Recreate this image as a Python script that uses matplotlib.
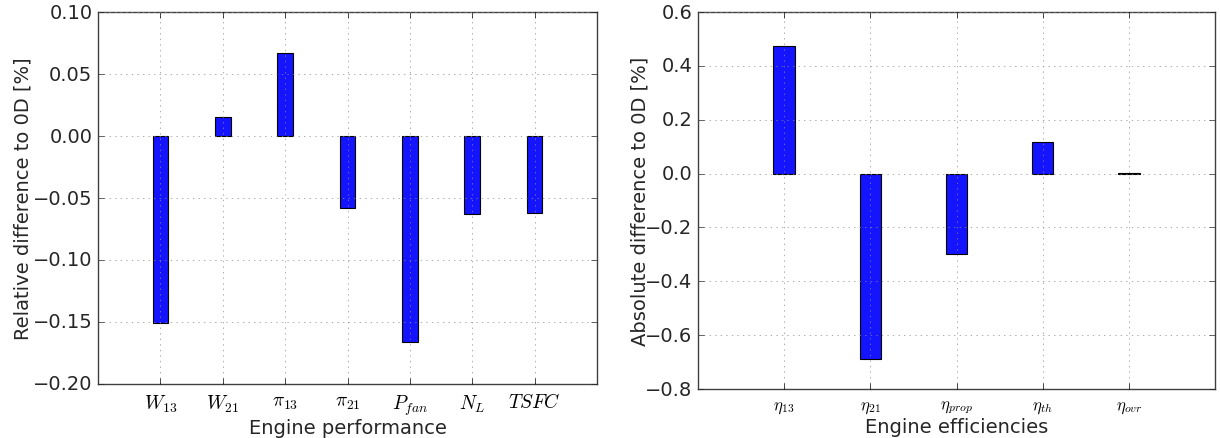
import numpy as np
import matplotlib
matplotlib.use('Agg')
import matplotlib.pyplot as plt

# engine performance, relative difference to 0D [%]
perf_labels = [r'$W_{13}$', r'$W_{21}$', r'$\pi_{13}$', r'$\pi_{21}$',
               r'$P_{fan}$', r'$N_L$', r'$TSFC$']
perf_values = [-0.151, 0.015, 0.067, -0.058, -0.166, -0.063, -0.062]

# engine efficiencies, absolute difference to 0D [%]
eff_labels = [r'$\eta_{13}$', r'$\eta_{21}$', r'$\eta_{prop}$',
              r'$\eta_{th}$', r'$\eta_{ovr}$']
eff_values = [0.475, -0.687, -0.297, 0.117, 0.003]

plt.style.use('classic')
plt.rcParams['mathtext.fontset'] = 'cm'
plt.rcParams['axes.unicode_minus'] = True
plt.rcParams['grid.color'] = '0.55'
plt.rcParams['axes.edgecolor'] = '0.25'


def fmt(v, nd):
    s = '%.*f' % (nd, abs(v))
    return '\u2212' + s if v < -1e-9 else s


fig = plt.figure(figsize=(12.2, 4.39), dpi=100)
fig.patch.set_facecolor('white')

# left panel
ax1 = fig.add_axes([98 / 1220, 54 / 439, 499 / 1220, 372 / 439])
x1 = np.arange(len(perf_values))
ax1.bar(x1, perf_values, width=0.25, align='center', color='#1414ff',
        edgecolor='black', linewidth=0.8)
ax1.set_xlim(-1, len(perf_values))
ax1.set_ylim(-0.20, 0.10)
yt1 = np.arange(-0.20, 0.101, 0.05)
ax1.set_yticks(yt1)
ax1.set_yticklabels([fmt(v, 2) for v in yt1])
ax1.set_xticks(x1)
ax1.set_xticklabels(perf_labels, fontsize=14)
ax1.tick_params(axis='y', labelsize=14, colors='0.15')
ax1.tick_params(axis='x', pad=6)
ax1.grid(True)
ax1.set_xlabel('Engine performance', fontsize=14, color='0.15', labelpad=1)
ax1.set_ylabel('Relative difference to 0D [%]', fontsize=14, color='0.15',
               labelpad=0)

# right panel
ax2 = fig.add_axes([698 / 1220, 49 / 439, 517 / 1220, 377 / 439])
x2 = np.arange(len(eff_values))
ax2.bar(x2, eff_values, width=0.25, align='center', color='#1414ff',
        edgecolor='black', linewidth=0.8)
ax2.set_xlim(-1, len(eff_values))
ax2.set_ylim(-0.8, 0.6)
yt2 = np.arange(-0.8, 0.61, 0.2)
ax2.set_yticks(yt2)
ax2.set_yticklabels([fmt(v, 1) for v in yt2])
ax2.set_xticks(x2)
ax2.set_xticklabels(eff_labels, fontsize=12)
ax2.tick_params(axis='y', labelsize=14, colors='0.15')
ax2.tick_params(axis='x', pad=6)
ax2.grid(True)
ax2.set_xlabel('Engine efficiencies', fontsize=14, color='0.15', labelpad=1)
ax2.set_ylabel('Absolute difference to 0D [%]', fontsize=14, color='0.15',
               labelpad=-3)

fig.savefig('out.png', dpi=100, facecolor='white')
